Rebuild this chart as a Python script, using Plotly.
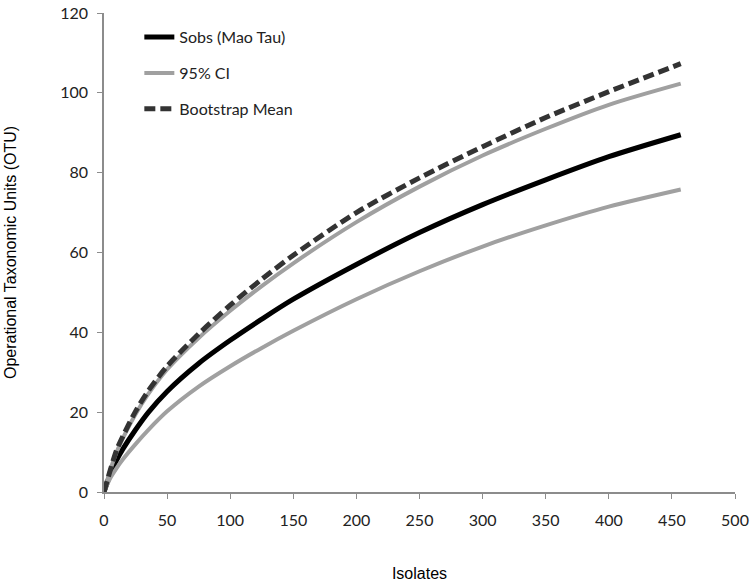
import plotly.graph_objects as go

isolates = [0, 5, 10, 15, 25, 35, 50, 75, 100, 125, 150, 200, 250, 300, 350, 400, 457]
sobs = [0, 4.5, 8, 10.8, 15.6, 19.9, 25.2, 32.2, 38, 43.3, 48.3, 57, 65, 72, 78.2, 84, 89.5]
ci_upper = [0, 5.5, 10, 13.5, 19.5, 24.5, 30.7, 38.6, 45.4, 51.6, 57.3, 67.6, 76.5, 84.3, 91, 97, 102.3]
ci_lower = [0, 3.5, 6, 8.2, 12, 15.5, 20.2, 26.4, 31.5, 36.1, 40.4, 48.3, 55.3, 61.5, 66.8, 71.5, 75.8]
boot_mean = [0, 5.5, 10.5, 14, 20.2, 25.3, 31.5, 39.6, 46.8, 53.3, 59.3, 70, 78.7, 86.5, 93.8, 100.3, 107.3]

x_ticks = [0, 50, 100, 150, 200, 250, 300, 350, 400, 450, 500]
y_ticks = [0, 20, 40, 60, 80, 100, 120]

fig = go.Figure()
fig.add_trace(go.Scatter(x=isolates, y=sobs, mode="lines", name="Sobs (Mao Tau)",
                         legendgroup="a",
                         line=dict(color="#000000", width=5, shape="spline", smoothing=0.8)))
fig.add_trace(go.Scatter(x=isolates, y=ci_upper, mode="lines", name="95% CI",
                         legendgroup="b",
                         line=dict(color="#a0a0a0", width=4, shape="spline", smoothing=0.8)))
fig.add_trace(go.Scatter(x=isolates, y=ci_lower, mode="lines", name="95% CI",
                         legendgroup="b", showlegend=False,
                         line=dict(color="#a0a0a0", width=4, shape="spline", smoothing=0.8)))
fig.add_trace(go.Scatter(x=isolates, y=boot_mean, mode="lines", name="Bootstrap Mean",
                         legendgroup="c",
                         line=dict(color="#333333", width=5, shape="spline", smoothing=0.8,
                                   dash="11px,5px")))

axis_common = dict(showline=True, linecolor="#8c8c8c", linewidth=1.5,
                   ticks="outside", ticklen=5, tickcolor="#8c8c8c", tickwidth=1,
                   showgrid=False, zeroline=False, ticklabeloverflow="allow",
                   tickfont=dict(family="Lato, Open Sans, sans-serif", size=16, color="#222222"))

fig.update_xaxes(range=[0, 500], tickvals=x_ticks, ticktext=[str(v) for v in x_ticks],
                 ticklabelstandoff=8,
                 title=dict(text="Isolates", standoff=40,
                            font=dict(family="Liberation Sans, Arial, sans-serif", size=16, color="#000")),
                 automargin=False, **axis_common)
fig.update_yaxes(range=[0, 120], tickvals=y_ticks, ticktext=[str(v) for v in y_ticks],
                 ticklabelstandoff=6,
                 title=dict(text="Operational Taxonomic Units (OTU)", standoff=40,
                            font=dict(family="Liberation Sans, Arial, sans-serif", size=16, color="#000")),
                 automargin=False, **axis_common)

fig.update_layout(
    width=750, height=585,
    margin=dict(l=104, r=15, t=13, b=93),
    paper_bgcolor="white", plot_bgcolor="white",
    legend=dict(x=0.056, y=0.985, xanchor="left", yanchor="top",
                bgcolor="rgba(0,0,0,0)", tracegroupgap=12,
                font=dict(family="Lato, Open Sans, sans-serif", size=16, color="#222222")),
    showlegend=True,
)

fig.write_html("out.html", config={"displayModeBar": False},
               post_script="document.body.style.margin='0';document.body.style.overflow='hidden';")
